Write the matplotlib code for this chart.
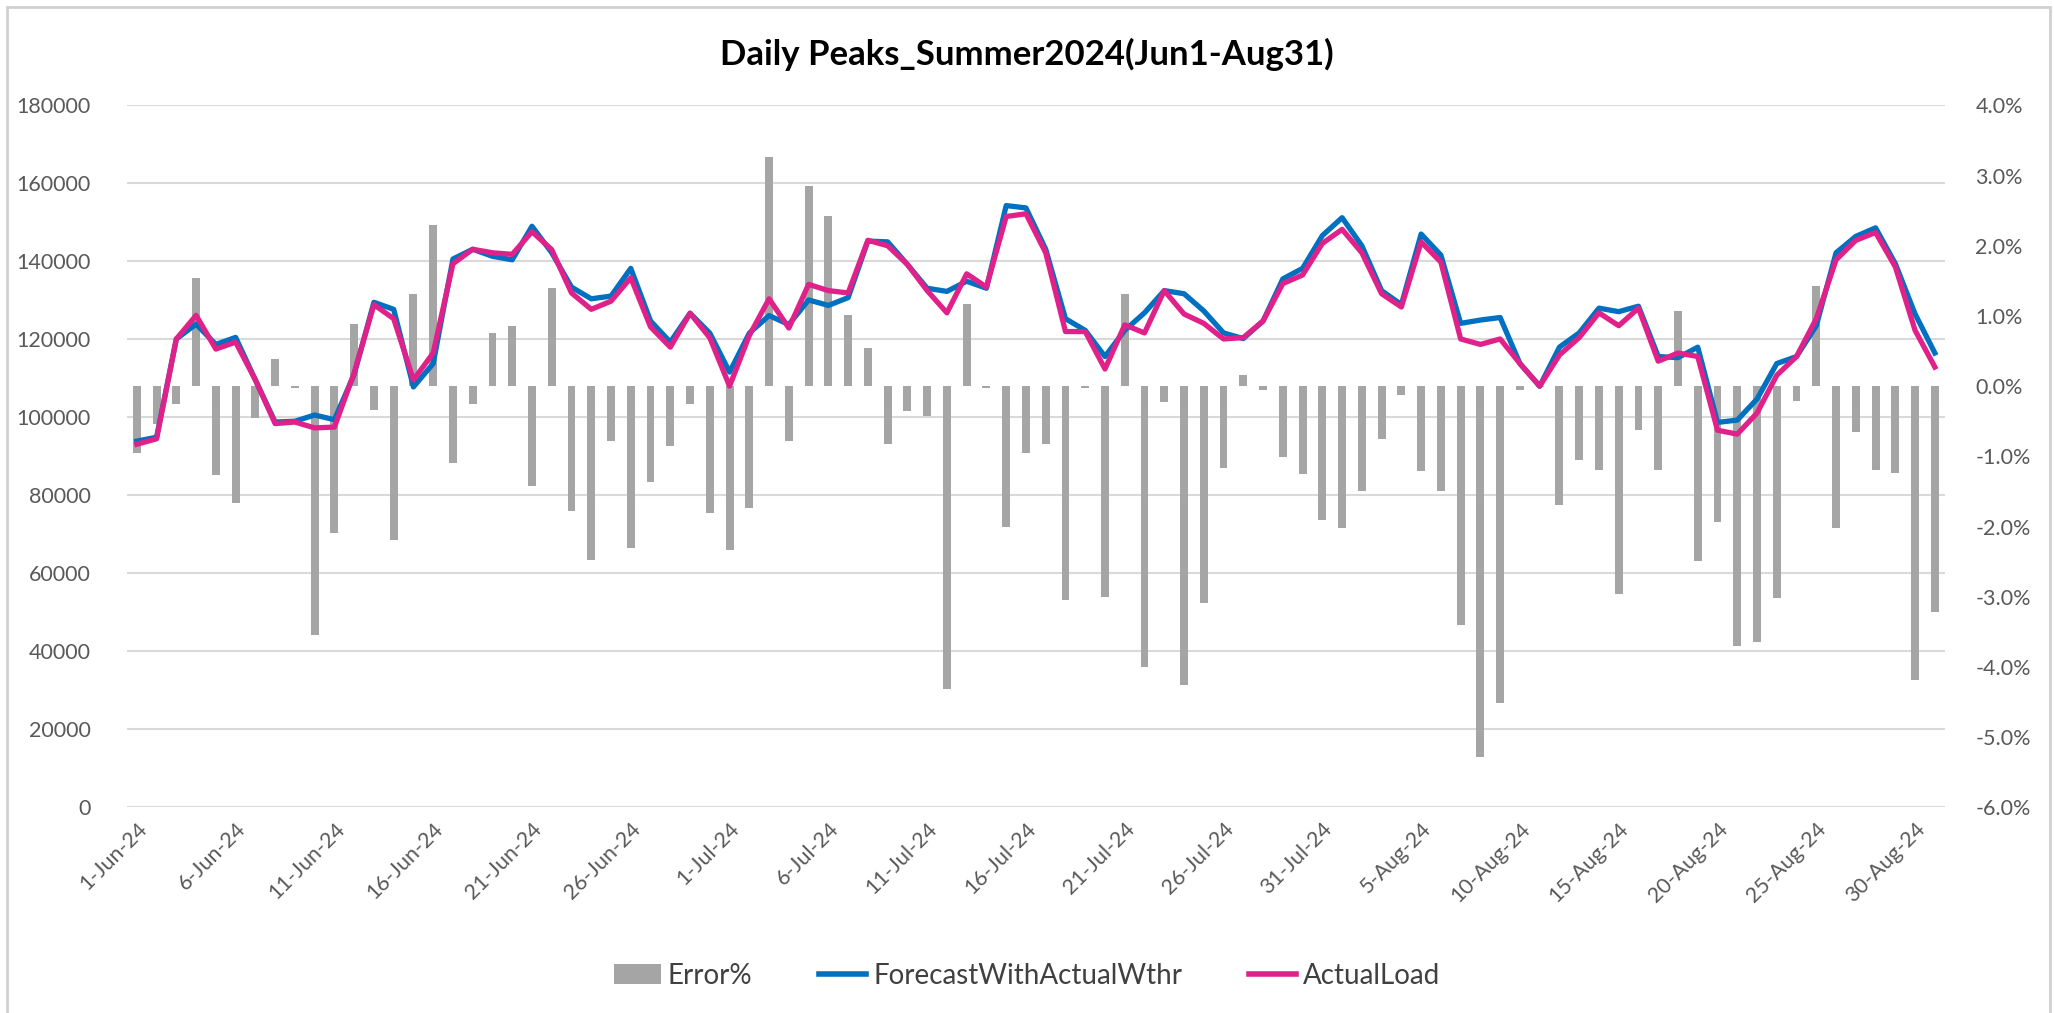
import pandas as pd
import matplotlib.pyplot as plt
from matplotlib.patches import Rectangle, Patch
from matplotlib.lines import Line2D
from matplotlib.ticker import FuncFormatter, MultipleLocator

# ====== DATA (Jun 1 - Aug 31, 2024) ======
dates = pd.date_range("2024-06-01", "2024-08-31", freq="D")
day_labels = [f"{d.day}-{d.strftime('%b-%y')}" for d in dates]

error_pct = [
    -0.95, -0.54, -0.25, 1.54, -1.27, -1.66, -0.46, 0.38, -0.02, -3.54,
    -2.09, 0.89, -0.34, -2.19, 1.31, 2.29, -1.09, -0.25, 0.76, 0.86,
    -1.42, 1.40, -1.78, -2.47, -0.78, -2.31, -1.37, -0.85, -0.25, -1.80,
    -2.33, -1.74, 3.27, -0.78, 2.85, 2.43, 1.01, 0.54, -0.82, -0.35,
    -0.42, -4.32, 1.17, -0.02, -2.01, -0.95, -0.82, -3.04, -0.02, -3.00,
    1.31, -4.00, -0.23, -4.25, -3.09, -1.17, 0.16, -0.05, -1.01, -1.25,
    -1.90, -2.02, -1.49, -0.75, -0.13, -1.21, -1.49, -3.40, -5.28, -4.52,
    -0.05, -0.01, -1.69, -1.05, -1.19, -2.96, -0.63, -1.19, 1.07, -2.49,
    -1.93, -3.70, -3.65, -3.02, -0.21, 1.43, -2.02, -0.65, -1.19, -1.23,
    -4.19, -3.22,
]

forecast = [
    93900, 94900, 120100, 123900, 118700, 120500, 109600, 98800, 99000, 100600,
    99400, 111000, 129500, 127700, 107800, 113800, 140600, 143100, 141300, 140400,
    149000, 142200, 133400, 130400, 131100, 138200, 124700, 119300, 126700, 121600,
    111600, 121600, 126100, 123800, 130100, 128700, 130700, 145200, 145000, 139200,
    133100, 132300, 134900, 133100, 154300, 153700, 143100, 125300, 122300, 115600,
    122300, 126800, 132500, 131700, 127300, 121650, 120200, 124700, 135500, 138200,
    146600, 151200, 144000, 132500, 128900, 147000, 141600, 124100, 124950, 125600,
    113800, 108000, 118000, 121650, 128000, 127100, 128500, 115600, 115300, 118000,
    98700, 99300, 104700, 113800, 115600, 123500, 142200, 146400, 148600, 139400,
    126500, 116500,
]

actual = [
    93100, 94500, 120100, 126150, 117500, 119300, 109600, 98400, 98800, 97300,
    97500, 111400, 128900, 125300, 109600, 116500, 139400, 143100, 142200, 141800,
    147600, 143000, 131900, 127700, 129800, 135800, 123200, 118000, 126700, 120400,
    108000, 121000, 130400, 122900, 134100, 132500, 131900, 145400, 144000, 139200,
    132500, 126800, 136800, 133400, 151500, 152200, 142200, 122000, 122000, 112400,
    123700, 121650, 132500, 126500, 124100, 120100, 120450, 124700, 134300, 136500,
    144600, 148200, 142200, 131700, 128300, 144950, 139800, 120100, 118700, 120100,
    113800, 108000, 116000, 120450, 126800, 123500, 128000, 114400, 116500, 115600,
    96700, 95700, 101100, 110800, 115600, 125300, 140400, 145400, 147400, 138600,
    122300, 112900,
]

# ====== STYLE ======
plt.rcParams['font.family'] = ['Lato', 'DejaVu Sans']
bar_color = "#A5A5A5"
fc_color = "#0070C0"
act_color = "#E0218A"
grid_color = "#D9D9D9"
tick_color = "#595959"

fig = plt.figure(figsize=(20.54, 10.13), dpi=100)
fig.patch.set_facecolor("white")

# outer chart frame
fig.patches.append(Rectangle((0.0034, -0.02), 0.9945, 1.013, transform=fig.transFigure,
                             fill=False, edgecolor="#D0D0D0", linewidth=2, zorder=0))

x = list(range(len(dates)))

# base axes: left scale + gridlines
ax = fig.add_axes([0.0618, 0.203, 0.885, 0.693])
ax.set_xlim(-0.5, len(x) - 0.5)
ax.set_ylim(0, 180000)
ax.yaxis.set_major_locator(MultipleLocator(20000))
ax.grid(axis="y", color=grid_color, linewidth=1.5)
ax.set_axisbelow(True)
ax.set_xticks(x[::5])
ax.set_xticklabels(day_labels[::5], rotation=45, ha="right", rotation_mode="anchor")
ax.tick_params(axis="both", length=0, labelsize=15.5, colors=tick_color)
ax.tick_params(axis="y", pad=26)
ax.tick_params(axis="x", pad=8)
for s in ax.spines.values():
    s.set_visible(False)

# bars: error %, right scale
axb = ax.twinx()
axb.bar(x, error_pct, width=0.4, color=bar_color, zorder=2)
axb.set_ylim(-6, 4)
axb.yaxis.set_major_locator(MultipleLocator(1))
axb.yaxis.set_major_formatter(FuncFormatter(lambda v, p: f"{v:.1f}%"))
axb.tick_params(axis="y", length=0, labelsize=15.5, colors=tick_color, pad=22)
for s in axb.spines.values():
    s.set_visible(False)

# lines on top, left scale
axl = ax.twinx()
axl.set_ylim(ax.get_ylim())
axl.plot(x, forecast, color=fc_color, linewidth=3.8, solid_joinstyle="round")
axl.plot(x, actual, color=act_color, linewidth=3.8, solid_joinstyle="round")
axl.set_yticks([])
for s in axl.spines.values():
    s.set_visible(False)
axl.set_xlim(ax.get_xlim())

fig.suptitle("Daily Peaks_Summer2024(Jun1-Aug31)", x=0.5, y=0.963,
             fontsize=25, fontweight="bold", color="black")

handles = [
    Patch(facecolor=bar_color, edgecolor="none"),
    Line2D([0], [0], color=fc_color, linewidth=4),
    Line2D([0], [0], color=act_color, linewidth=4),
]
fig.legend(handles, ["Error%", "ForecastWithActualWthr", "ActualLoad"],
           loc="center", bbox_to_anchor=(0.5, 0.037), ncol=3, frameon=False,
           fontsize=20, handlelength=1.7, handletextpad=0.25, columnspacing=2.4,
           labelcolor="#404040")

plt.savefig("out.png", dpi=100, facecolor="white")
plt.close()
